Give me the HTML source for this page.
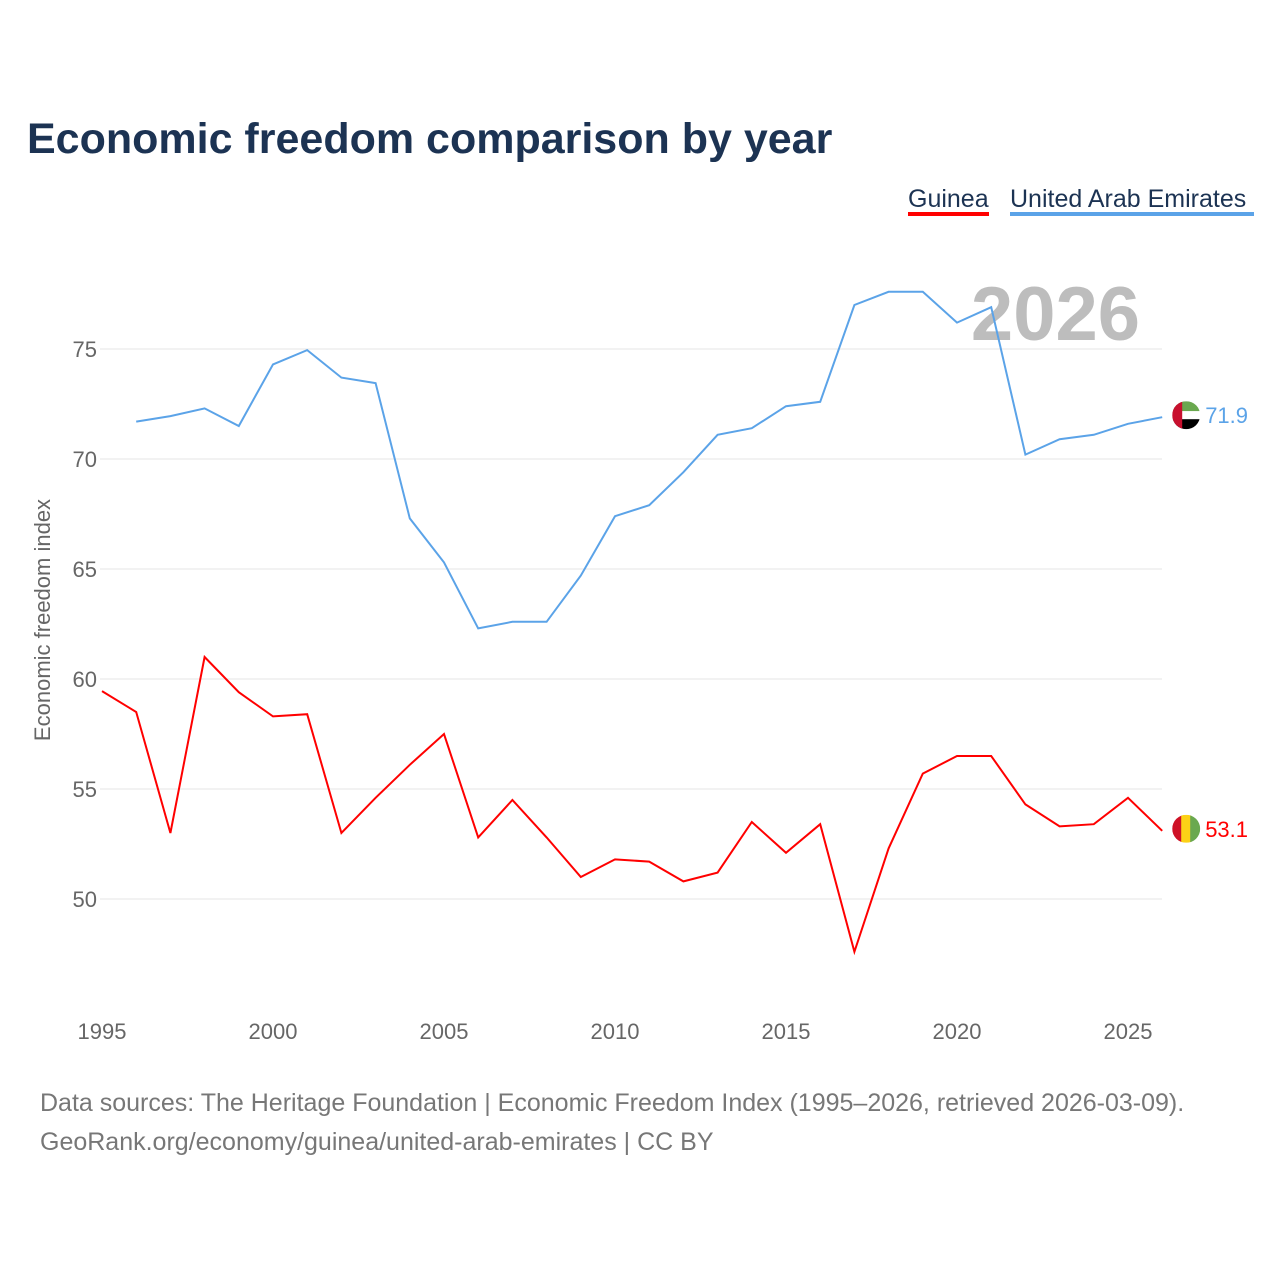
<!DOCTYPE html>
<html><head><meta charset="utf-8"><style>
body{margin:0;background:#fff;font-family:"Liberation Sans",sans-serif;}
#wrap{position:relative;width:1280px;height:1280px;}
</style></head><body>
<div id="wrap">
<svg id="chart" width="1280" height="1280">
<defs>
<clipPath id="cu"><circle id="cuc" cx="0" cy="0" r="14"/></clipPath>
<clipPath id="cg"><circle id="cgc" cx="0" cy="0" r="14"/></clipPath>
</defs>
<text x="27" y="153" font-size="43" font-weight="bold" fill="#1c3353">Economic freedom comparison by year</text>
<g><text x="908" y="207" font-size="25" fill="#1c3353">Guinea</text><rect x="908" y="212" width="81" height="4" fill="#ff0000"/></g>
<g><text x="1010" y="207" font-size="25" fill="#1c3353">United Arab Emirates</text><rect x="1010" y="212" width="244" height="4" fill="#5ba3e8"/></g>
<text x="1140" y="340" font-size="76" font-weight="bold" fill="#bdbdbd" text-anchor="end">2026</text>
<g id="grid"></g><g id="xt"></g><g id="series"></g>
<text transform="translate(50,620) rotate(-90)" font-size="22" fill="#666" text-anchor="middle">Economic freedom index</text>
<text x="40" y="1111" font-size="25" fill="#777">Data sources: The Heritage Foundation | Economic Freedom Index (1995–2026, retrieved 2026-03-09).</text>
<text x="40" y="1150" font-size="25" fill="#777">GeoRank.org/economy/guinea/united-arab-emirates | CC BY</text>
</svg></div>
<script>
const yearsGuinea=[1995,1996,1997,1998,1999,2000,2001,2002,2003,2004,2005,2006,2007,2008,2009,2010,2011,2012,2013,2014,2015,2016,2017,2018,2019,2020,2021,2022,2023,2024,2025,2026];
const guinea=[59.45,58.5,53.0,61.0,59.4,58.3,58.4,53.0,54.6,56.1,57.5,52.8,54.5,52.8,51.0,51.8,51.7,50.8,51.2,53.5,52.1,53.4,47.6,52.3,55.7,56.5,56.5,54.3,53.3,53.4,54.6,53.1];
const yearsUae=[1996,1997,1998,1999,2000,2001,2002,2003,2004,2005,2006,2007,2008,2009,2010,2011,2012,2013,2014,2015,2016,2017,2018,2019,2020,2021,2022,2023,2024,2025,2026];
const uae=[71.7,71.95,72.3,71.5,74.3,74.95,73.7,73.45,67.3,65.3,62.3,62.6,62.6,64.7,67.4,67.9,69.4,71.1,71.4,72.4,72.6,77.0,77.6,77.6,76.2,76.9,70.2,70.9,71.1,71.6,71.9];
const yTicks=[50,55,60,65,70,75];
const xTicks=[1995,2000,2005,2010,2015,2020,2025];
const X=y=>102+(y-1995)*34.2;
const Y=v=>899-(v-50)*22;
const NS="http://www.w3.org/2000/svg";
function mk(t,a,p){const e=document.createElementNS(NS,t);for(const k in a)e.setAttribute(k,a[k]);p.appendChild(e);return e;}
const grid=document.getElementById('grid');
yTicks.forEach(v=>{
 const l=mk('line',{x1:100,x2:1162,y1:Y(v),y2:Y(v),stroke:'#e6e6e6','stroke-width':1},grid);
 
 
 const t=mk('text',{x:97,y:Y(v)+8,'font-size':22,fill:'#666','text-anchor':'end'},grid);t.textContent=v;
 
 
});
const xt=document.getElementById('xt');
xTicks.forEach(v=>{
 const t=mk('text',{x:X(v),y:1039,'font-size':22,fill:'#666','text-anchor':'middle'},xt);t.textContent=v;
 
 
});
const s=document.getElementById('series');
function line(ys,vals,col,name,clip,flag){
 const p=mk('polyline',{points:ys.map((y,i)=>X(y)+','+Y(vals[i])).join(' '),fill:'none',stroke:col,'stroke-width':2},s);
 
 
 const lx=X(ys[ys.length-1])+24, ly=Y(vals[vals.length-1])-2;
 document.getElementById(clip+'c').setAttribute('cx',lx);
 document.getElementById(clip+'c').setAttribute('cy',ly);
 const g=mk('g',{'clip-path':'url(#'+clip+')'},s);
 
 
 flag(g,lx-14,ly-14);
 const t=mk('text',{x:lx+19,y:ly+8,'font-size':22,fill:col},s);t.textContent=vals[vals.length-1].toFixed(1);
 
 
}
line(yearsUae,uae,'#5ba3e8','uae','cu',(g,x,y)=>{
 mk('rect',{x:x,y:y,width:28,height:10,fill:'#6aa84f'},g);
 mk('rect',{x:x,y:y+10,width:28,height:8,fill:'#fff'},g);
 mk('rect',{x:x,y:y+18,width:28,height:10,fill:'#000'},g);
 mk('rect',{x:x,y:y,width:10,height:28,fill:'#c8102e'},g);
});
line(yearsGuinea,guinea,'#ff0000','guinea','cg',(g,x,y)=>{
 mk('rect',{x:x,y:y,width:10,height:28,fill:'#ce1126'},g);
 mk('rect',{x:x+9,y:y,width:10,height:28,fill:'#fcd116'},g);
 mk('rect',{x:x+18,y:y,width:10,height:28,fill:'#6aa84f'},g);
});
</script>
</body></html>
